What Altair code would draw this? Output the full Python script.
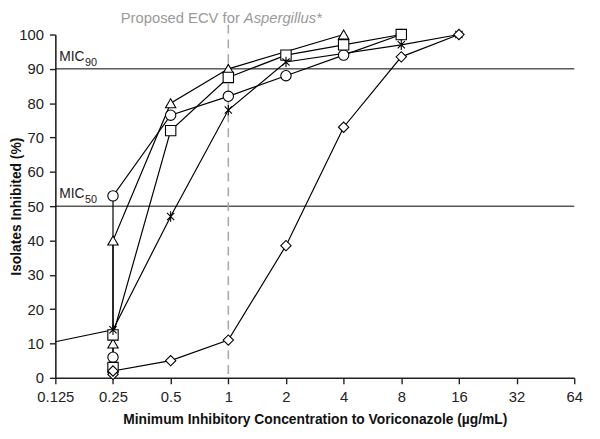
import altair as alt
import pandas as pd

# ---- data ----
tri_x = [0.25, 0.25, 0.5, 1, 4]
tri_y = [10, 40, 80, 90, 100]
cir_x = [0.25, 0.25, 0.5, 1, 2, 4, 8]
cir_y = [6, 53, 76.5, 82, 88, 94, 100]
sq_x = [0.25, 0.25, 0.5, 1, 2, 4, 8]
sq_y = [3, 12.5, 72, 87.5, 94, 97, 100]
star_x = [0.125, 0.25, 0.5, 1, 2, 8, 16]
star_y = [10.5, 14, 47, 78, 92, 97, 100]
dia_x = [0.25, 0.25, 0.5, 1, 2, 4, 8, 16]
dia_y = [1, 2, 5, 11, 38.5, 73, 93.5, 100]

x_ticks = [0.125, 0.25, 0.5, 1, 2, 4, 8, 16, 32, 64]
y_ticks = list(range(0, 101, 10))
mic_levels = [50, 90]
mic_labels = ["50", "90"]
ecv = 1

series = {
    "triangle": (tri_x, tri_y),
    "circle": (cir_x, cir_y),
    "square": (sq_x, sq_y),
    "star": (star_x, star_y),
    "diamond": (dia_x, dia_y),
}
rows = []
for name, (xs, ys) in series.items():
    for i, (a, b) in enumerate(zip(xs, ys)):
        rows.append({"series": name, "i": i, "mic": a, "pct": b})
df = pd.DataFrame(rows)

FONT = "Liberation Sans"
W, H = 526, 348

xscale = alt.Scale(type="log", base=2, domain=[0.125, 64])
yscale = alt.Scale(domain=[0, 100], nice=False)

xaxis = alt.Axis(values=x_ticks, labelExpr="'' + datum.value",
                 title="Minimum Inhibitory Concentration to Voriconazole (µg/mL)",
                 labelFlush=False, labelOverlap=False,
                 labelPadding=6, titlePadding=8)
yaxis = alt.Axis(values=y_ticks, title="Isolates Inhibited (%)",
                 labelOverlap=False, labelFlush=False,
                 labelPadding=6, titleX=-32, titleY=H / 2)


def X(field="mic"):
    return alt.X(f"{field}:Q", scale=xscale, axis=xaxis)


def Y(field="pct"):
    return alt.Y(f"{field}:Q", scale=yscale, axis=yaxis)


base = alt.Chart(df)

lines = base.mark_line(color="black", strokeWidth=1.2).encode(
    x=X(), y=Y(), detail="series:N", order="i:Q")

shape_scale = alt.Scale(
    domain=["triangle", "circle", "square", "star", "diamond"],
    range=["triangle-up", "circle", "square",
           "M-0.7,-0.7L0.7,0.7M-0.7,0.7L0.7,-0.7M0,-1L0,1", "diamond"])

points = base.transform_filter("datum.mic >= 0.25").mark_point(
    filled=False, fill="white", fillOpacity=1, stroke="black",
    strokeWidth=1.1, size=110, opacity=1).encode(
    x=X(), y=Y(),
    shape=alt.Shape("series:N", scale=shape_scale, legend=None))

mic_df = pd.DataFrame({"pct": mic_levels, "lab": mic_labels})
mic_rules = alt.Chart(mic_df).mark_rule(color="black", strokeWidth=1).encode(y=Y())

mic_txt = alt.Chart(mic_df).mark_text(
    align="left", baseline="alphabetic", font=FONT, fontSize=14, fill="#222",
    dy=-8).encode(x=alt.value(4), y=Y(), text=alt.value("MIC"))
mic_sub = alt.Chart(mic_df).mark_text(
    align="left", baseline="alphabetic", font=FONT, fontSize=11, fill="#222",
    dy=-3).encode(x=alt.value(30), y=Y(), text=alt.Text("lab:N"))

ecv_df = pd.DataFrame({"mic": [ecv]})
ecv_rule = alt.Chart(ecv_df).mark_rule(
    color="#aaaaaa", strokeWidth=1.6, strokeDash=[9, 6]).encode(
    x=X(), y=alt.value(-10), y2=alt.value(H))

t1 = alt.Chart(ecv_df).mark_text(
    align="right", baseline="alphabetic", font=FONT, fontSize=15,
    fill="#9a9a9a").encode(x=alt.value(187), y=alt.value(-12),
                           text=alt.value("Proposed ECV for"))
t2 = alt.Chart(ecv_df).mark_text(
    align="left", baseline="alphabetic", font=FONT, fontSize=15,
    fontStyle="italic", fill="#9a9a9a").encode(
    x=alt.value(191), y=alt.value(-12), text=alt.value("Aspergillus*"))

chart = alt.layer(mic_rules, ecv_rule, lines, points, mic_txt, mic_sub, t1, t2).properties(
    width=W, height=H,
    autosize=alt.AutoSizeParams(type="none"),
    padding={"left": 48, "top": 24, "right": 18, "bottom": 51},
).configure_view(stroke=None).configure_axis(
    grid=False, domainColor="#222", domainWidth=1.6, tickColor="#222",
    tickWidth=1.4, tickSize=6, labelFont=FONT, labelFontSize=15,
    labelColor="#222", titleFont=FONT, titleFontSize=14, titleFontWeight="bold",
    titleColor="#111",
)

chart.save("out.html", embed_options={"renderer": "svg", "actions": False})
